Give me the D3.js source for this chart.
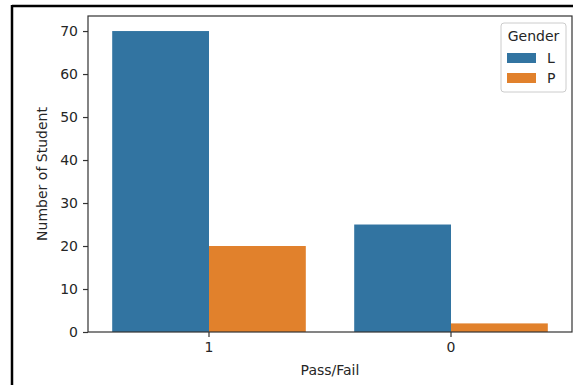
<!DOCTYPE html>
<html><head><meta charset="utf-8">
<script src="https://cdn.jsdelivr.net/npm/d3@7"></script>
<style>body{margin:0;background:#fff;} svg{display:block;font-family:"DejaVu Sans",sans-serif;}</style>
</head><body>
<svg id="c" width="573" height="385"></svg>
<script>
const categories = ["1", "0"];
const hues = ["L", "P"];
const valuesL = [70, 25];
const valuesP = [20, 2];
const yTicks = [0, 10, 20, 30, 40, 50, 60, 70];
const colors = ["#3274a1", "#e1812c"];

const svg = d3.select("#c");
const m = {l: 88, r: 572, t: 16, b: 332};
const x = d3.scaleBand().domain(categories).range([m.l, m.r]).padding(0);
const xi = d3.scaleBand().domain(hues).range([0, x.bandwidth() * 0.8]);
const y = d3.scaleLinear().domain([0, 73.5]).range([m.b, m.t]);

// frame border
svg.append("line").attr("x1", 12).attr("x2", 573).attr("y1", 6).attr("y2", 6).attr("stroke", "#000").attr("stroke-width", 2.5);
svg.append("line").attr("x1", 12).attr("x2", 12).attr("y1", 5).attr("y2", 385).attr("stroke", "#000").attr("stroke-width", 2.5);

const data = categories.map((c, i) => ({c, vals: [valuesL[i], valuesP[i]]}));
const g = svg.append("g");
data.forEach(d => {
  d.vals.forEach((v, j) => {
    const x0 = x(d.c) + x.bandwidth() * 0.1 + xi(hues[j]);
    g.append("rect").attr("x", x0).attr("width", xi.bandwidth())
      .attr("y", y(v)).attr("height", y(0) - y(v)).attr("fill", colors[j]);
  });
});

// axes
const ya = svg.append("g").attr("transform", `translate(${m.l},0)`)
  .call(d3.axisLeft(y).tickValues(yTicks).tickSize(5).tickPadding(5));
const xa = svg.append("g").attr("transform", `translate(0,${m.b})`)
  .call(d3.axisBottom(x).tickSize(5).tickPadding(5));
[ya, xa].forEach(a => {
  a.select(".domain").remove();
  a.selectAll("line").attr("stroke", "#333").attr("stroke-width", 1.2);
  a.selectAll("text").attr("fill", "#262626").style("font-size", "14px").style("font-family", "DejaVu Sans");
});
// spines
svg.append("rect").attr("x", m.l).attr("y", m.t).attr("width", m.r - m.l).attr("height", m.b - m.t)
  .attr("fill", "none").attr("stroke", "#333").attr("stroke-width", 1.2);

svg.append("text").attr("x", (m.l + m.r) / 2).attr("y", 375).attr("text-anchor", "middle")
  .style("font-size", "14px").attr("fill", "#262626").text("Pass/Fail");
svg.append("text").attr("transform", `translate(47,${(m.t + m.b) / 2}) rotate(-90)`).attr("text-anchor", "middle")
  .style("font-size", "14px").attr("fill", "#262626").text("Number of Student");

// legend
const lg = svg.append("g");
lg.append("rect").attr("x", 501).attr("y", 23).attr("width", 65).attr("height", 69).attr("rx", 3)
  .attr("fill", "#fff").attr("fill-opacity", 0.8).attr("stroke", "#ccc").attr("stroke-width", 1);
lg.append("text").attr("x", 533.5).attr("y", 41).attr("text-anchor", "middle")
  .style("font-size", "14px").attr("fill", "#262626").text("Gender");
hues.forEach((h, i) => {
  lg.append("rect").attr("x", 507).attr("y", 53 + i * 20).attr("width", 29).attr("height", 10).attr("fill", colors[i]);
  lg.append("text").attr("x", 547).attr("y", 63 + i * 20).style("font-size", "14px").attr("fill", "#262626").text(h);
});
</script>
</body></html>
